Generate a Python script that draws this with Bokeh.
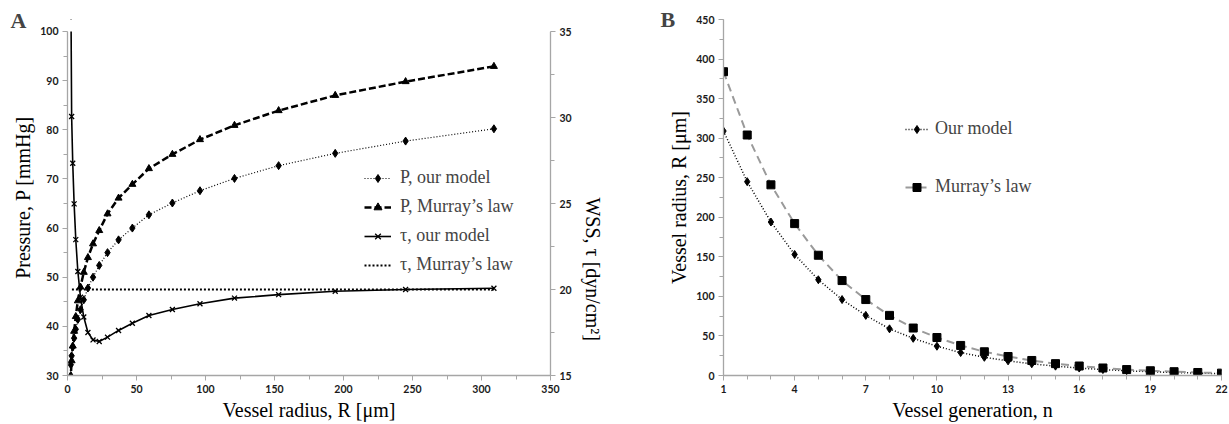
import math
from bokeh.plotting import figure
from bokeh.models import (Range1d, LinearAxis, SingleIntervalTicker, FixedTicker,
                          Legend, LegendItem, BoxAnnotation)
from bokeh.layouts import row
from bokeh.embed import file_html
from bokeh.resources import INLINE

# ---------------- Panel A data ----------------
radius_A = [309, 245, 194, 153, 121, 96, 76, 59, 47, 37, 29, 23, 18.5, 14.8, 11.8,
            9.4, 7.5, 6.0, 4.8, 3.8, 3.0, 2.4]
p_model = [80.2, 77.7, 75.2, 72.7, 70.1, 67.6, 65.1, 62.7, 60.0, 57.6, 55.0, 52.4,
           50.0, 47.8, 45.4, 43.4, 41.4, 39.4, 37.6, 35.8, 34.0, 32.2]
p_murray = [92.9, 89.8, 87.0, 83.9, 80.9, 78.0, 75.0, 72.1, 68.9, 66.1, 62.9, 59.5,
            56.8, 54.0, 51.0, 48.0, 45.2, 42.0, 39.0, 36.0, 33.0, 30.0]
tau_model = [20.07, 20.0, 19.9, 19.7, 19.5, 19.17, 18.84, 18.49, 18.04, 17.62, 17.23,
             16.98, 17.07, 17.5, 18.4, 19.55, 21.05, 22.9, 24.98, 27.34, 30.06, 38.0]
tau_murray = [20.0, 20.0, 20.0, 20.0, 20.0, 20.0, 20.0, 20.0, 20.0, 20.0, 20.0,
              20.0, 20.0, 20.0, 20.0, 20.0, 20.0, 20.0, 20.0, 20.0, 20.0, 20.0]

# ---------------- Panel B data ----------------
generation = [1, 2, 3, 4, 5, 6, 7, 8, 9, 10, 11, 12, 13, 14, 15, 16, 17, 18, 19, 20, 21, 22]
radius_model = [309, 245, 194, 153, 121, 96, 76, 59, 47, 37, 29, 23, 18.5, 14.8, 11.8,
                9.4, 7.5, 6.0, 4.8, 3.8, 3.0, 2.4]
radius_murray = [384, 304, 241, 192, 152, 120, 96, 76, 60, 48, 38, 30, 24, 19, 15, 12,
                 9.5, 7.5, 6.0, 4.8, 3.8, 3.0]
gen_ticks = [1, 4, 7, 10, 13, 16, 19, 22]

SERIF = "Liberation Serif"
TICKF = "Lato"
AXIS_GRAY = "#a6a6a6"


def style_axis(ax, label):
    ax.axis_label = label
    ax.axis_label_text_font = SERIF
    ax.axis_label_text_font_size = "20px"
    ax.axis_label_text_font_style = "normal"
    ax.axis_label_text_color = "black"
    ax.axis_label_standoff = 3
    ax.major_label_text_font = TICKF
    ax.major_label_text_font_size = "10.5px"
    ax.major_label_text_font_style = "bold"
    ax.major_label_text_color = "#1a1a1a"
    ax.major_label_standoff = 4
    ax.axis_line_color = AXIS_GRAY
    ax.axis_line_width = 1.3
    ax.major_tick_line_color = AXIS_GRAY
    ax.minor_tick_line_color = AXIS_GRAY
    ax.major_tick_in = 0
    ax.major_tick_out = 5
    ax.minor_tick_in = 0
    ax.minor_tick_out = 4


def panel_title(p, letter, offset, standoff):
    p.title.text = letter
    p.title.text_font = SERIF
    p.title.text_font_size = "22px"
    p.title.text_font_style = "bold"
    p.title.align = "left"
    p.title.offset = offset
    p.title.standoff = standoff
    p.title.vertical_align = "bottom"


# ================= Panel A =================
pA = figure(frame_width=483, frame_height=356, x_range=Range1d(0, 350),
            y_range=Range1d(30, 102.44), title="A",
            output_backend="svg", toolbar_location=None,
            min_border_left=67, min_border_right=70, min_border_top=19, min_border_bottom=49)
pA.extra_y_ranges = {"tau": Range1d(15, 35.70)}
pA.xgrid.visible = False
pA.ygrid.visible = False
pA.outline_line_color = None
panel_title(pA, "A", -57, -27)

pA.xaxis.ticker = SingleIntervalTicker(interval=50, num_minor_ticks=2)
pA.yaxis.ticker = SingleIntervalTicker(interval=10, num_minor_ticks=2)
pA.yaxis.bounds = (30, 100)
style_axis(pA.xaxis[0], "Vessel radius, R [\u03bcm]")
style_axis(pA.yaxis[0], "Pressure, P [mmHg]")

rax = LinearAxis(y_range_name="tau", ticker=SingleIntervalTicker(interval=5, num_minor_ticks=2),
                 bounds=(15, 35))
style_axis(rax, "WSS, \u03c4 [dyn/cm\u00b2]")
rax.axis_label_orientation = -math.pi / 2
rax.axis_label_standoff = 18
pA.add_layout(rax, "right")

l1 = pA.line(radius_A, p_model, line_dash="1 2", line_width=1.2, color="black")
s1 = pA.scatter(radius_A, p_model, marker="diamond", size=8, color="black")
l2 = pA.line(radius_A, p_murray, line_dash="7 3", line_width=2.5, color="black")
s2 = pA.scatter(radius_A, p_murray, marker="triangle", size=7, color="black")
l4 = pA.line(radius_A, tau_murray, line_dash="2 2", line_width=2, color="black",
             y_range_name="tau")
l3 = pA.line(radius_A, tau_model, line_width=1.6, color="black", y_range_name="tau")
s3 = pA.scatter(radius_A, tau_model, marker="x", size=7, line_width=1.3, color="black",
                y_range_name="tau")

# white mask over the strip above the top of the axes (plot area ends at 100 mmHg)
pA.add_layout(BoxAnnotation(bottom=100, fill_color="white", fill_alpha=1.0,
                            line_color=None, level="overlay"))

legA = Legend(items=[
    LegendItem(label="P, our model", renderers=[l1, s1]),
    LegendItem(label="P, Murray\u2019s law", renderers=[l2, s2]),
    LegendItem(label="\u03c4, our model", renderers=[l3, s3]),
    LegendItem(label="\u03c4, Murray\u2019s law", renderers=[l4]),
], location=(297, 100), border_line_color=None, background_fill_alpha=0,
    label_text_font=SERIF, label_text_font_size="18px", glyph_width=27, glyph_height=20,
    label_height=20, spacing=8, padding=0, margin=0, label_standoff=9)
pA.add_layout(legA)

# ================= Panel B =================
pB = figure(frame_width=498, frame_height=356, x_range=Range1d(1, 22), y_range=Range1d(0, 450),
            title="B", output_backend="svg", toolbar_location=None,
            min_border_left=103, min_border_right=8, min_border_top=19, min_border_bottom=49)
pB.xgrid.visible = False
pB.ygrid.visible = False
pB.outline_line_color = None
panel_title(pB, "B", -63, -25)
pB.xaxis.ticker = FixedTicker(ticks=gen_ticks, minor_ticks=generation)
pB.yaxis.ticker = SingleIntervalTicker(interval=50, num_minor_ticks=2)
style_axis(pB.xaxis[0], "Vessel generation, n")
style_axis(pB.yaxis[0], "Vessel radius, R [\u03bcm]")

b1 = pB.line(generation, radius_model, line_dash="1 2", line_width=1.5, color="black")
bs1 = pB.scatter(generation, radius_model, marker="diamond", size=8, color="black")
b2 = pB.line(generation, radius_murray, line_dash="8 5", line_width=2, color="#9a9a9a")
bs2 = pB.scatter(generation, radius_murray, marker="square", size=8, color="black")

legB = Legend(items=[
    LegendItem(label="Our model", renderers=[b1, bs1]),
    LegendItem(label="Murray\u2019s law", renderers=[b2, bs2]),
], location=(182, 178), border_line_color=None, background_fill_alpha=0,
    label_text_font=SERIF, label_text_font_size="18px", glyph_width=23, glyph_height=20,
    label_height=20, spacing=37, padding=0, margin=0, label_standoff=7)
pB.add_layout(legB)

layout = row(pA, pB)
open("out.html", "w").write(file_html(layout, INLINE))
